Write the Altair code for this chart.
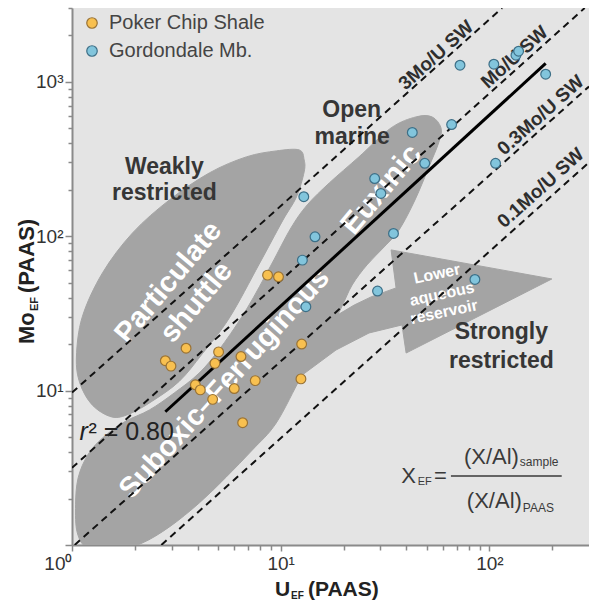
import altair as alt
import pandas as pd

FONT = "Liberation Sans"

# ---------------- data series ----------------
SERIES = ["Poker Chip Shale", "Gordondale Mb."]
SERIES_FILL = ["#f8c050", "#82c5dc"]
SERIES_EDGE = ["#9a7335", "#3d6f87"]

POKER_U = [2.80, 2.98, 3.52, 5.04, 4.84, 6.45, 3.90, 4.12, 4.72, 5.99, 7.55, 6.57, 8.65, 9.76, 12.6, 12.5]
POKER_MO = [15.6, 14.4, 18.8, 17.8, 15.0, 16.6, 10.9, 10.1, 8.77, 10.3, 11.6, 6.19, 55.9, 54.5, 20.0, 11.9]

GORD_U = [12.9, 14.6, 12.7, 13.2, 28.2, 30.2, 42.7, 49.0, 34.7, 65.9, 29.1, 85.2, 107, 72.3, 105, 134, 138, 186]
GORD_MO = [180, 99.0, 69.9, 34.9, 236, 189, 469, 296, 104, 528, 44.1, 52.4, 296, 1279, 1298, 1484, 1576, 1118]

# regression line end points
FIT_U = [2.80, 186]
FIT_MO = [7.29, 1312]

# seawater Mo/U reference lines (end points)
SW_NAMES = ["3Mo/U SW", "Mo/U SW", "0.3Mo/U SW", "0.1Mo/U SW"]
SW_U0 = [1.0, 1.0, 1.03, 2.68]
SW_MO0 = [9.7, 3.16, 1.0, 1.0]
SW_U1 = [115, 286, 300, 300]
SW_MO1 = [3000, 3000, 930, 300]
SW_LABEL_U = [55.5, 132, 176, 176]
SW_LABEL_MO = [1484, 1441, 607, 205]

# field outlines (U, Mo)
SHUTTLE_U = [12.26, 9.52, 6.84, 4.55, 2.93, 1.95, 1.40, 1.12, 1.05, 1.09, 1.25, 1.55, 1.88, 2.43,
             3.27, 4.21, 5.67, 7.89, 10.2, 11.9, 12.95, 12.95]
SHUTTLE_MO = [361.6, 356.2, 325.9, 256.6, 171.6, 104.9, 57.8, 30.0, 16.5, 11.2, 8.07, 6.75, 7.05, 8.56,
              11.5, 17.3, 29.5, 66.0, 125.5, 179.5, 260.5, 311.5]

ANOXIC_U = [44.5, 53.1, 58.6, 57.3, 51.3, 44.0, 36.9, 31.3, 25.9, 22.0, 19.5, 16.7, 12.67, 9.52, 7.31,
            5.49, 4.07, 2.93, 2.17, 1.60, 1.19, 1.06, 1.04, 1.07, 1.19, 1.40, 1.78, 2.35, 3.09, 4.07,
            5.19, 6.92, 9.00, 11.2, 13.4, 17.1, 23.7, 33.8]
ANOXIC_MO = [591.6, 591.6, 502.2, 407.6, 280.7, 171.6, 109.7, 85.1, 65.1, 48.3, 34.3, 22.9, 12.6, 6.17,
             4.12, 2.76, 1.87, 1.31, 1.03, 0.914, 0.956, 1.20, 1.82, 2.72, 3.83, 4.93, 6.26, 7.49, 9.65,
             13.0, 19.2, 34.3, 65.1, 113.0, 159.3, 221.1, 325.9, 502.2]

ARROW_U = [17.1, 22.5, 27.1, 35.7, 33.8, 199.1, 39.9, 38.1, 26.5, 18.4, 12.67, 12.26]
ARROW_MO = [28.7, 35.8, 40.4, 46.2, 81.4, 52.8, 17.5, 26.6, 23.6, 18.3, 12.6, 18.3]

# annotation texts
WHITE_TEXT = ["Particulate", "shuttle", "Suboxic\u2013Ferruginous", "Euxinic"]
WHITE_U = [2.895, 3.94, 5.37, 30.4]
WHITE_MO = [50.4, 37.4, 11.1, 200]
WHITE_ANGLE = [310, 310, 312, 310]
WHITE_SIZE = [29, 29, 29, 30]

RES_TEXT = ["Lower", "aqueous", "reservoir"]
RES_U = [56.1, 59.3, 60.6]
RES_MO = [56.8, 42.1, 32.2]

DARK_TEXT = ["Weakly", "restricted", "Open", "marine", "Strongly", "restricted"]
DARK_U = [2.77, 2.77, 21.9, 22.0, 114.1, 114.1]
DARK_MO = [279.6, 189.8, 654, 437, 23.9, 15.5]

X_TICKS = [1, 2, 3, 4, 5, 6, 7, 8, 9, 10, 20, 30, 40, 50, 60, 70, 80, 90, 100, 200]
Y_TICKS = [1, 2, 3, 4, 5, 6, 7, 8, 9, 10, 20, 30, 40, 50, 60, 70, 80, 90,
           100, 200, 300, 400, 500, 600, 700, 800, 900, 1000, 2000, 3000]

# ---------------- tables ----------------
pts = pd.DataFrame({
    "U": POKER_U + GORD_U,
    "Mo": POKER_MO + GORD_MO,
    "series": [SERIES[0]] * len(POKER_U) + [SERIES[1]] * len(GORD_U),
})
fit = pd.DataFrame({"U": FIT_U, "Mo": FIT_MO})
sw = pd.DataFrame({
    "name": SW_NAMES * 2,
    "U": SW_U0 + SW_U1,
    "Mo": SW_MO0 + SW_MO1,
})
sw_lab = pd.DataFrame({"t": SW_NAMES, "U": SW_LABEL_U, "Mo": SW_LABEL_MO})
blobs = pd.DataFrame({
    "shape": ["shuttle"] * len(SHUTTLE_U) + ["anoxic"] * len(ANOXIC_U),
    "i": list(range(len(SHUTTLE_U))) + list(range(len(ANOXIC_U))),
    "U": SHUTTLE_U + ANOXIC_U,
    "Mo": SHUTTLE_MO + ANOXIC_MO,
})
arrow = pd.DataFrame({"i": list(range(len(ARROW_U))), "U": ARROW_U, "Mo": ARROW_MO})
white = pd.DataFrame({"t": WHITE_TEXT, "U": WHITE_U, "Mo": WHITE_MO, "a": WHITE_ANGLE, "s": WHITE_SIZE})
res = pd.DataFrame({"t": RES_TEXT, "U": RES_U, "Mo": RES_MO})
dark = pd.DataFrame({"t": DARK_TEXT, "U": DARK_U, "Mo": DARK_MO})

# ---------------- scales / axes ----------------
MAJOR = "datum.value == 1 || datum.value == 10 || datum.value == 100 || datum.value == 1000"
x_axis = alt.Axis(
    values=X_TICKS, title=None, grid=False,
    labelExpr="datum.value == 1 ? '10\u2070' : datum.value == 10 ? '10\u00b9' : datum.value == 100 ? '10\u00b2' : ''",
    labelAlign={"condition": {"test": "datum.value == 1", "value": "right"}, "value": "center"},
    labelFont=FONT, labelFontSize=19, labelColor="#333333", labelPadding=3,
    labelOverlap=False, labelFlush=False,
    tickSize={"condition": {"test": MAJOR, "value": 6}, "value": 5},
    tickColor="#8a8a8a", tickWidth=1.5, domainColor="#8a8a8a", domainWidth=2,
)
y_axis = alt.Axis(
    values=Y_TICKS, title=None, grid=False,
    labelExpr="datum.value == 10 ? '10\u00b9' : datum.value == 100 ? '10\u00b2' : datum.value == 1000 ? '10\u00b3' : ''",
    labelFont=FONT, labelFontSize=19, labelColor="#333333", labelPadding=2,
    labelOverlap=False, labelFlush=False,
    tickSize={"condition": {"test": MAJOR, "value": 7}, "value": 4},
    tickColor="#8a8a8a", tickWidth=1.5, domainColor="#8a8a8a", domainWidth=2,
)
X = alt.X("U:Q", scale=alt.Scale(type="log", domain=[1, 300], nice=False), axis=x_axis)
Y = alt.Y("Mo:Q", scale=alt.Scale(type="log", domain=[1, 3000], nice=False), axis=y_axis)

GRAY = "#a4a4a4"

shapes = alt.Chart(blobs).mark_line(
    interpolate="cardinal-closed", fill=GRAY, stroke=GRAY, strokeWidth=1, clip=True
).encode(x=X, y=Y, detail="shape:N", order="i:Q")

arrow_l = alt.Chart(arrow).mark_line(
    interpolate="linear-closed", fill=GRAY, stroke=GRAY, strokeWidth=1, clip=True
).encode(x=X, y=Y, order="i:Q")

white_l = alt.Chart(white).mark_text(
    font=FONT, fontWeight="bold", color="white", align="center", baseline="middle"
).encode(x=X, y=Y, text="t:N", angle=alt.Angle("a:Q", scale=None), size=alt.Size("s:Q", scale=None))

res_l = alt.Chart(res).mark_text(
    font=FONT, fontWeight="bold", color="white", fontSize=16, angle=348, align="center", baseline="middle"
).encode(x=X, y=Y, text="t:N")

dark_l = alt.Chart(dark).mark_text(
    font=FONT, fontWeight="bold", color="#363636", fontSize=23, align="center", baseline="middle"
).encode(x=X, y=Y, text="t:N")

sw_l = alt.Chart(sw).mark_line(
    strokeDash=[7, 5], strokeWidth=2, color="#111111", clip=True
).encode(x=X, y=Y, detail="name:N")

sw_lab_l = alt.Chart(sw_lab).mark_text(
    font=FONT, fontWeight="bold", color="#2e2e2e", fontSize=19, angle=318, align="center", baseline="middle"
).encode(x=X, y=Y, text="t:N")

fit_l = alt.Chart(fit).mark_line(strokeWidth=3, color="#000000").encode(x=X, y=Y)

leg = alt.Legend(
    orient="none", legendX=10, legendY=5, title=None, labelFont=FONT, labelFontSize=20,
    labelColor="#444444", symbolSize=110, symbolStrokeWidth=1.2, symbolType="circle",
    rowPadding=8, labelOffset=7, padding=0,
)
points = alt.Chart(pts).mark_circle(size=95, opacity=1, strokeWidth=1.2).encode(
    x=X, y=Y,
    fill=alt.Fill("series:N", scale=alt.Scale(domain=SERIES, range=SERIES_FILL), legend=leg),
    stroke=alt.Stroke("series:N", scale=alt.Scale(domain=SERIES, range=SERIES_EDGE), legend=leg),
)

# r^2 annotation
R2_U = [1.086, 1.199]
R2_MO = [4.79, 4.79]
r_l = alt.Chart(pd.DataFrame({"t": ["r"], "U": R2_U[:1], "Mo": R2_MO[:1]})).mark_text(
    font=FONT, fontStyle="italic", fontSize=25, color="#222222", align="left", baseline="alphabetic"
).encode(x=X, y=Y, text="t:N")
r2_l = alt.Chart(pd.DataFrame({"t": ["\u00b2 = 0.80"], "U": R2_U[1:], "Mo": R2_MO[1:]})).mark_text(
    font=FONT, fontSize=25, color="#222222", align="left", baseline="alphabetic"
).encode(x=X, y=Y, text="t:N")

# enrichment factor formula
F_BIG_R = pd.DataFrame({"t": ["X", "(X/Al)", "(X/Al)"], "U": [44.5, 138.4, 143.0], "Mo": [2.52, 3.344, 1.735]})
F_BIG_L = pd.DataFrame({"t": ["="], "U": [54.3], "Mo": [2.52]})
F_SMALL = pd.DataFrame({"t": ["EF", "sample", "PAAS"], "U": [45.3, 139.9, 144.6], "Mo": [2.447, 3.245, 1.635],
                        "s": [11, 12, 12]})
FBAR = pd.DataFrame({"U": [65.4], "U2": [222], "Mo": [2.797]})
FC = "#3a3a3a"
f1 = alt.Chart(F_BIG_R).mark_text(font=FONT, fontSize=22, color=FC, align="right", baseline="alphabetic").encode(
    x=X, y=Y, text="t:N")
f2 = alt.Chart(F_BIG_L).mark_text(font=FONT, fontSize=22, color=FC, align="left", baseline="alphabetic").encode(
    x=X, y=Y, text="t:N")
f3 = alt.Chart(F_SMALL).mark_text(font=FONT, color=FC, align="left", baseline="alphabetic").encode(
    x=X, y=Y, text="t:N", size=alt.Size("s:Q", scale=None))
f4 = alt.Chart(FBAR).mark_rule(color=FC, strokeWidth=1.5).encode(x=X, x2="U2:Q", y=Y)

# axis titles (bold, with subscript)
TC = "#222222"
one = pd.DataFrame({"t": ["U"]})
xt1 = alt.Chart(pd.DataFrame({"t": ["U"]})).mark_text(
    font=FONT, fontWeight="bold", fontSize=21, color=TC, align="left", baseline="alphabetic"
).encode(x=alt.value(203), y=alt.value(588), text="t:N")
xt2 = alt.Chart(pd.DataFrame({"t": ["EF"]})).mark_text(
    font=FONT, fontWeight="bold", fontSize=10, color=TC, align="left", baseline="alphabetic"
).encode(x=alt.value(219), y=alt.value(591), text="t:N")
xt3 = alt.Chart(pd.DataFrame({"t": ["(PAAS)"]})).mark_text(
    font=FONT, fontWeight="bold", fontSize=21, color=TC, align="left", baseline="alphabetic"
).encode(x=alt.value(236), y=alt.value(588), text="t:N")
yt1 = alt.Chart(pd.DataFrame({"t": ["Mo"]})).mark_text(
    font=FONT, fontWeight="bold", fontSize=22, color=TC, align="left", baseline="alphabetic", angle=270
).encode(x=alt.value(-38), y=alt.value(336), text="t:N")
yt2 = alt.Chart(pd.DataFrame({"t": ["EF"]})).mark_text(
    font=FONT, fontWeight="bold", fontSize=11, color=TC, align="left", baseline="alphabetic", angle=270
).encode(x=alt.value(-34), y=alt.value(303), text="t:N")
yt3 = alt.Chart(pd.DataFrame({"t": ["(PAAS)"]})).mark_text(
    font=FONT, fontWeight="bold", fontSize=22, color=TC, align="left", baseline="alphabetic", angle=270
).encode(x=alt.value(-38), y=alt.value(285), text="t:N")

chart = alt.layer(
    shapes, arrow_l, white_l, res_l, dark_l, sw_l, sw_lab_l, fit_l, points,
    r_l, r2_l, f1, f2, f3, f4, xt1, xt2, xt3, yt1, yt2, yt3,
).properties(
    width=517, height=537,
    padding={"left": 72, "top": 8, "right": 0, "bottom": 56},
    autosize=alt.AutoSizeParams(type="none"),
).configure(font=FONT, background="white").configure_view(fill="#e4e4e4", strokeWidth=0)

chart.save("out.html", embed_options={"renderer": "svg", "actions": False})
